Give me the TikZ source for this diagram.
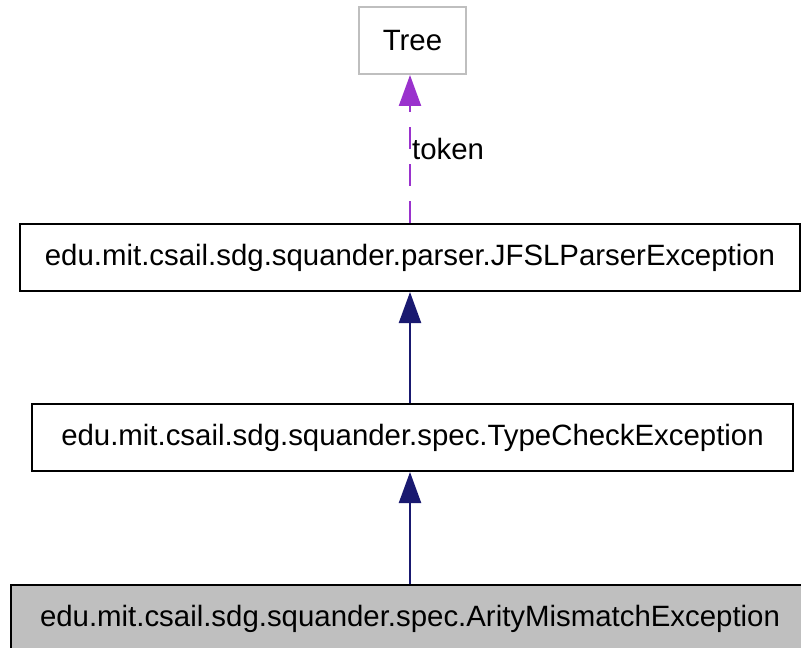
\documentclass[tikz,border=0pt]{standalone}
\usepackage{fontspec}
\setmainfont{Liberation Sans}
\usetikzlibrary{arrows.meta}
\definecolor{boxgray}{HTML}{BFBFBF}
\definecolor{edgenavy}{HTML}{191970}
\definecolor{edgepurple}{HTML}{9A32CD}
\begin{document}
\begin{tikzpicture}[x=1bp,y=-1bp,
    font=\fontsize{29.5}{35}\selectfont,
    classbox/.style={draw,line width=2bp,minimum height=67bp,inner sep=0pt},
    inherit/.style={draw=edgenavy,line width=2.3bp,-{Triangle[length=31bp,width=22bp,fill=edgenavy]}},
    usage/.style={draw=edgepurple,line width=2.3bp,dash pattern=on 22bp off 15bp,-{Triangle[length=31bp,width=22bp,fill=edgepurple]}}]
        \useasboundingbox (0,0) rectangle (801,648);
        % Top level
        \node[classbox,draw=boxgray,minimum width=107bp] (tree) at (412.5,40.5) {Tree};
        % Level 2
        \node[classbox,minimum width=780bp] (jfsl) at (410,257.5) {edu.mit.csail.sdg.squander.parser.JFSLParserException};
        % Level 3
        \node[classbox,minimum width=761bp] (typecheck) at (412.5,437.5) {edu.mit.csail.sdg.squander.spec.TypeCheckException};
        % Bottom level
        \node[classbox,fill=boxgray,minimum width=798bp] (arity) at (410,618.5) {edu.mit.csail.sdg.squander.spec.ArityMismatchException};
        % Edges
        \draw[usage] (jfsl.north) -- (jfsl.north |- tree.south) node[pos=0.5,right,inner sep=1bp] (token) {token};
        \draw[inherit] (typecheck.north -| jfsl.north) -- (jfsl.south);
        \draw[inherit] (arity.north) -- (arity.north |- typecheck.south);
    \end{tikzpicture}
\end{document}
